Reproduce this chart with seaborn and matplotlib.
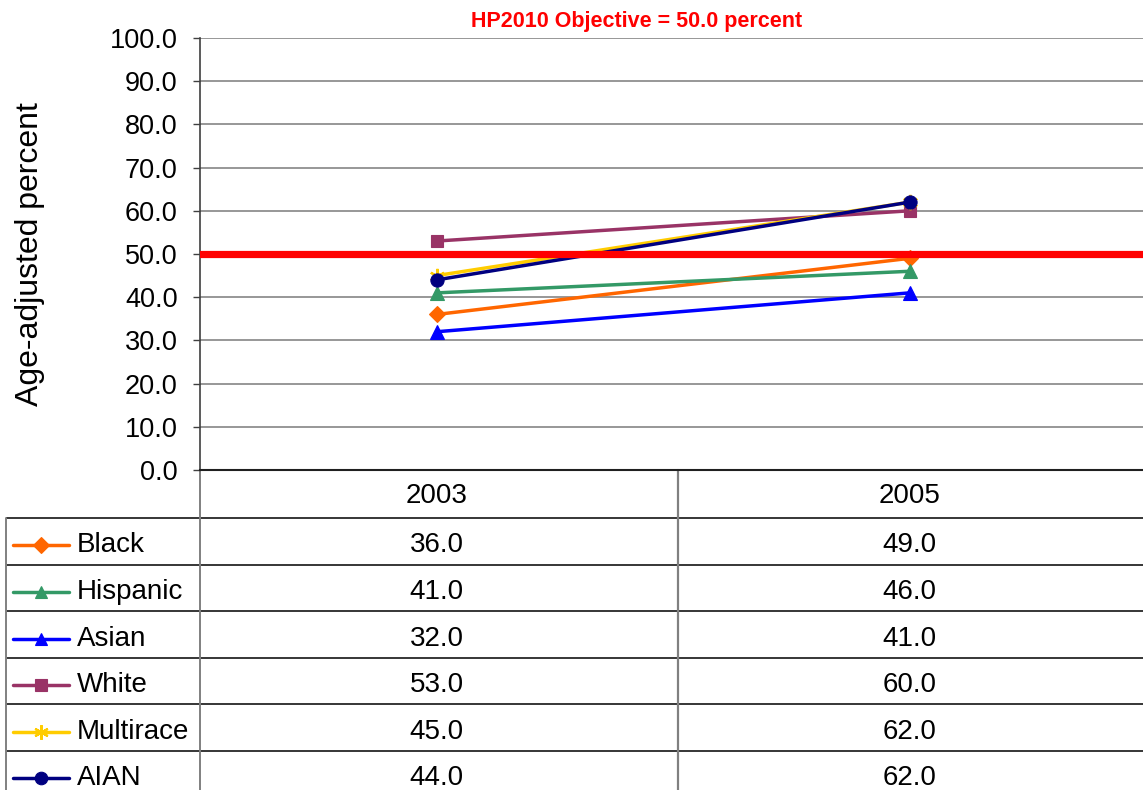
import numpy as np
import pandas as pd
import matplotlib
matplotlib.use("Agg")
import matplotlib.pyplot as plt
import matplotlib.transforms as mtransforms
from matplotlib.lines import Line2D
import seaborn as sns

# ---- data -------------------------------------------------------------
years = ["2003", "2005"]
groups = ["Black", "Hispanic", "Asian", "White", "Multirace", "AIAN"]
black = [36.0, 49.0]
hispanic = [41.0, 46.0]
asian = [32.0, 41.0]
white = [53.0, 60.0]
multirace = [45.0, 62.0]
aian = [44.0, 62.0]
objective = 50.0
objective_label = "HP2010 Objective = 50.0 percent"
y_ticks = [0, 10, 20, 30, 40, 50, 60, 70, 80, 90, 100]
y_label = "Age-adjusted percent"

series = dict(zip(groups, [black, hispanic, asian, white, multirace, aian]))

colors = {
    "Black": "#FF6600",
    "Hispanic": "#339966",
    "Asian": "#0000FF",
    "White": "#993366",
    "Multirace": "#FFCC00",
    "AIAN": "#000080",
}
markers = {
    "Black": "D",
    "Hispanic": "^",
    "Asian": "^",
    "White": "s",
    "Multirace": (6, 2, 0),   # asterisk
    "AIAN": "o",
}
marker_sizes = {"Black": 8.5, "Hispanic": 9.5, "Asian": 9.5, "White": 8.5,
                "Multirace": 11, "AIAN": 9.5}

rows = []
for g in groups:
    for i, (yr, v) in enumerate(zip(years, series[g])):
        rows.append({"pos": i, "year": yr, "group": g, "value": v})
df = pd.DataFrame(rows)

# ---- style ------------------------------------------------------------
sns.set_theme(style="white")
plt.rcParams["font.family"] = ["Liberation Sans", "DejaVu Sans"]
plt.rcParams["text.color"] = "black"

W, H = 1143, 790
fig = plt.figure(figsize=(W / 100, H / 100), dpi=100)
fig.patch.set_facecolor("white")

# pixel-space layout
ax_left, ax_right, ax_top, ax_bottom = 200, 1146, 38, 470
ax = fig.add_axes([ax_left / W, 1 - ax_bottom / H,
                   (ax_right - ax_left) / W, (ax_bottom - ax_top) / H])
ax.set_zorder(2)
ax.patch.set_alpha(0)

# seaborn refuses to mix filled and line-art markers, so the asterisk is
# applied to its line after plotting
sns_markers = {g: (m if g != "Multirace" else "o") for g, m in markers.items()}
sns.lineplot(data=df, x="pos", y="value", hue="group", style="group",
             hue_order=groups, style_order=groups, palette=colors,
             markers=sns_markers, dashes=False, linewidth=2.5, legend=False,
             ax=ax, zorder=3)
for line, g in zip(ax.lines, groups):
    line.set_marker(markers[g])
    line.set_markeredgecolor(colors[g])
    line.set_markerfacecolor(colors[g])
    line.set_markersize(marker_sizes[g])
    line.set_markeredgewidth(1.6 if g == "Multirace" else 0.8)

ax.axhline(objective, color="#FF0000", lw=5.2, zorder=6)

ax.set_xlim(-0.5, len(years) - 0.5)
ax.set_ylim(min(y_ticks), max(y_ticks))
ax.set_xticks([])
ax.set_xlabel("")
ax.set_yticks(y_ticks)
ax.yaxis.set_major_formatter(matplotlib.ticker.StrMethodFormatter("{x:.1f}"))
ax.tick_params(axis="y", left=True, direction="out", length=5, width=1,
               color="#404040", pad=11, labelsize=19.5, labelcolor="black")
ax.yaxis.grid(True, color="#7a7a7a", lw=1.1)
ax.set_axisbelow(True)
for s in ["top", "right"]:
    ax.spines[s].set_visible(False)
ax.spines["left"].set_color("#404040")
ax.spines["left"].set_linewidth(1.2)
ax.spines["bottom"].set_color("#202020")
ax.spines["bottom"].set_linewidth(1.5)

ax.set_ylabel(y_label, fontsize=23, color="black", va="center")
ax.yaxis.set_label_coords((30 - ax_left) / (ax_right - ax_left), 0.5)

fig.text(637 / W, 1 - 22 / H, objective_label, color="#FF0000",
         fontsize=15.5, fontweight="bold", ha="center", va="center")

# ---- data table below the plot ------------------------------------------
tab = fig.add_axes([0, 0, 1, 1])
tab.set_zorder(1)
tab.patch.set_alpha(0)
tab.set_xlim(0, W)
tab.set_ylim(H, 0)
tab.axis("off")

header_h = 48
row_h = 46.6
row_tops = [ax_bottom + header_h + k * row_h for k in range(len(groups))]
table_left = 6
col_div = 678
table_fs = 20

# horizontal rules
for yb in row_tops:
    tab.plot([table_left, ax_right], [yb, yb], color="black", lw=1.1,
             solid_capstyle="butt")
# vertical rules
tab.plot([table_left, table_left], [row_tops[0], H + 10], color="#808080", lw=1.4)
tab.plot([ax_left, ax_left], [ax_bottom, H + 10], color="#808080", lw=1.4)
tab.plot([col_div, col_div], [ax_bottom, H + 10], color="#808080", lw=1.6)

# column positions follow the category positions of the plot
colx = mtransforms.blended_transform_factory(ax.transData, tab.transData)

for i, yr in enumerate(years):
    tab.text(i, ax_bottom + header_h / 2 + 2, yr, transform=colx,
             ha="center", va="center", fontsize=table_fs)

for k, g in enumerate(groups):
    yc = row_tops[k] + row_h / 2 + 4
    tab.add_line(Line2D([13, 69], [yc, yc], color=colors[g], lw=2.5,
                        solid_capstyle="round"))
    tab.add_line(Line2D([41], [yc], marker=markers[g], color=colors[g],
                        markersize=marker_sizes[g] * 0.95,
                        markeredgecolor=colors[g],
                        markeredgewidth=1.6 if g == "Multirace" else 0.8))
    tab.text(77, yc, g, ha="left", va="center", fontsize=table_fs)
    for i, v in enumerate(series[g]):
        tab.text(i, yc, f"{v:.1f}", transform=colx, ha="center",
                 va="center", fontsize=table_fs)

fig.savefig("out.png", dpi=100, facecolor="white")
